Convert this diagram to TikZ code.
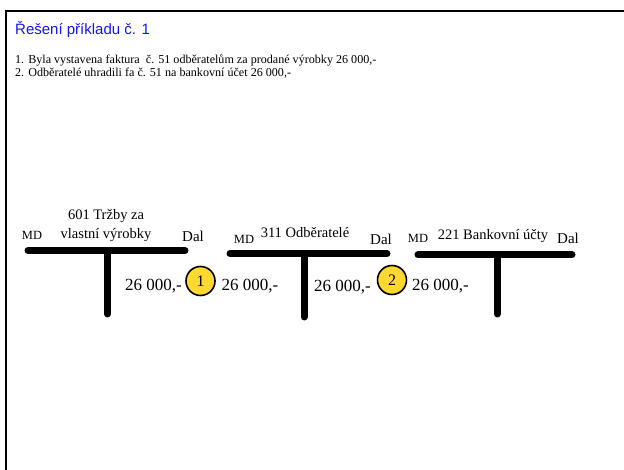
\documentclass[tikz,border=0pt]{standalone}
\usepackage{fontspec}
\setmainfont{Liberation Serif}
\newfontfamily\titlefont{Liberation Sans}
\definecolor{titleblue}{RGB}{20,20,240}
\definecolor{circyellow}{RGB}{255,217,47}
\begin{document}
\begin{tikzpicture}[x=1pt,y=-1pt,
  tbar/.style={line width=7pt,line cap=round},
  side/.style={anchor=base,font=\fontsize{12.5}{14}\selectfont},
  dal/.style={anchor=base,font=\fontsize{15}{17}\selectfont},
  acct/.style={anchor=base,font=\fontsize{14.5}{16}\selectfont,align=center},
  amount/.style={anchor=base,font=\fontsize{17}{19}\selectfont},
  bodyline/.style={anchor=base west,font=\fontsize{12.1}{14}\selectfont,inner sep=0pt},
  numcirc/.style={circle,draw,line width=1.6pt,fill=circyellow,minimum size=29pt,inner sep=0pt,font=\fontsize{16}{18}\selectfont}]
\useasboundingbox (0,0) rectangle (624,470);
\draw[line width=2.5pt] (6,470) -- (6,11) -- (624,11);
\node[anchor=base west,text=titleblue,font=\titlefont\fontsize{15}{18}\selectfont,inner sep=0pt] (title) at (15,35) {Řešení příkladu č. 1};
\node[bodyline] (line1) at (15,64) {1. Byla vystavena faktura \ č. 51 odběratelům za prodané výrobky 26 000,-};
\node[bodyline] (line2) at (15,77) {2. Odběratelé uhradili fa č. 51 na bankovní účet 26 000,-};
% ucet 601
\draw[tbar] (28,250.5) -- (185,250.5);
\draw[tbar] (107.5,250.5) -- (107.5,314);
\node[side] (md1) at (32,240) {MD};
\node[acct] (name1) at (106,220) {601 Tržby za};
\node[acct] (name1b) at (106,239) {vlastní výrobky};
\node[dal] (dal1) at (193,242) {Dal};
% ucet 311
\draw[tbar] (230,253.5) -- (387,253.5);
\draw[tbar] (304,253.5) -- (304,317);
\node[side] (md2) at (244,244) {MD};
\node[acct] (name2) at (305,238) {311 Odběratelé};
\node[dal] (dal2) at (381,245) {Dal};
% ucet 221
\draw[tbar] (418,255) -- (572,255);
\draw[tbar] (497,255) -- (497,314);
\node[side] (md3) at (418,243) {MD};
\node[acct] (name3) at (493,240) {221 Bankovní účty};
\node[dal] (dal3) at (568,244) {Dal};
% zapisy
\node[amount] (a1) at (153.5,291) {26 000,-};
\node[numcirc] (c1) at (200.5,281) {1};
\node[amount] (b1) at (250,291) {26 000,-};
\node[amount] (a2) at (342.5,292) {26 000,-};
\node[numcirc] (c2) at (392,280) {2};
\node[amount] (b2) at (440.5,291) {26 000,-};
\end{tikzpicture}
\end{document}
